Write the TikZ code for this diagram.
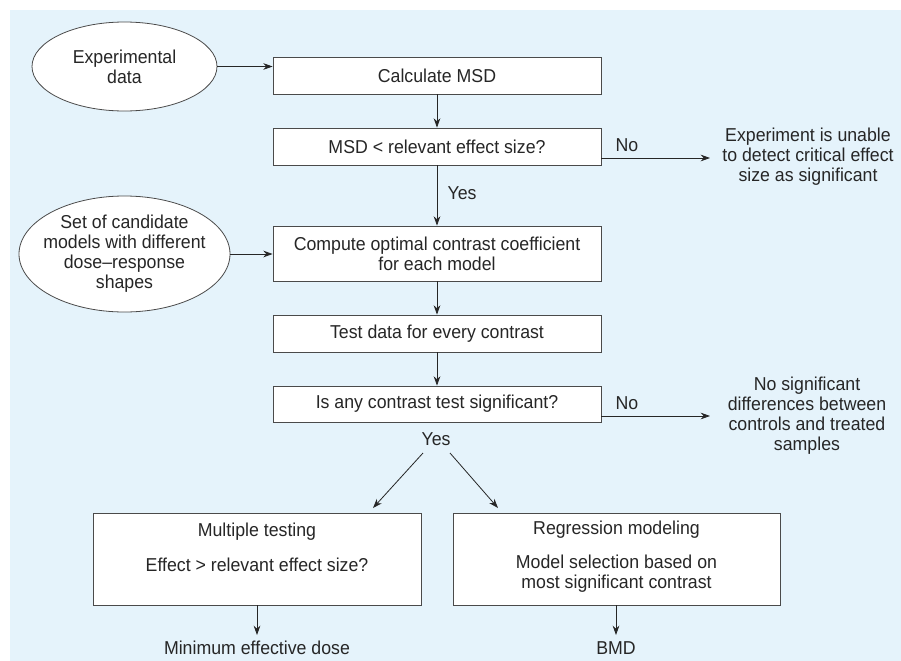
\documentclass[tikz,border=0pt]{standalone}
\usepackage{fontspec}
\setmainfont{Liberation Sans}[FakeStretch=0.95]
\usetikzlibrary{shapes.geometric,arrows.meta}
\definecolor{bgblue}{HTML}{E5F3FB}
\definecolor{edgegray}{HTML}{4A4A4A}
\tikzset{
  every node/.style={font=\fontsize{14}{15}\selectfont, text=black!85},
  procbox/.style={draw=edgegray, line width=0.6pt, fill=white, rectangle, inner sep=0pt},
  startell/.style={draw=edgegray, line width=0.6pt, fill=white, ellipse, inner sep=0pt},
  plain/.style={align=center, inner sep=0pt},
  arr/.style={draw=black!85, line width=0.6pt, -{Stealth[length=7pt,width=5pt]}}
}
\begin{document}
\begin{tikzpicture}[x=0.75pt,y=-0.75pt]
\useasboundingbox (0,0) rectangle (901,661);
\fill[bgblue] (10,10) rectangle (901,661);
% ellipses
\node[startell, minimum width=185*0.75pt, minimum height=89*0.75pt] (exp) at (124.5,66.5) {};
\node[plain] (expt) at (124.5,66.5) {Experimental\\data};
\node[startell, minimum width=211*0.75pt, minimum height=116*0.75pt] (set) at (124.5,254) {};
\node[plain] (sett) at (124.5,254) {Set of candidate\\models with different\\dose--response\\shapes};
% boxes
\node[procbox, minimum width=328*0.75pt, minimum height=37*0.75pt] (calc) at (437,75.5) {Calculate MSD};
\node[procbox, minimum width=328*0.75pt, minimum height=37*0.75pt] (msd) at (437,146.5) {MSD < relevant effect size?};
\node[procbox, minimum width=328*0.75pt, minimum height=55*0.75pt, align=center] (comp) at (437,253.5) {Compute optimal contrast coefficient\\for each model};
\node[procbox, minimum width=328*0.75pt, minimum height=37*0.75pt] (test) at (437,333.5) {Test data for every contrast};
\node[procbox, minimum width=328*0.75pt, minimum height=36*0.75pt] (any) at (437,404) {Is any contrast test significant?};
\node[procbox, minimum width=328*0.75pt, minimum height=92*0.75pt] (mult) at (257,559) {};
\node[procbox, minimum width=327*0.75pt, minimum height=92*0.75pt] (regr) at (616.5,559) {};
\node[plain] (multa) at (257,532) {Multiple testing};
\node[plain] (multb) at (257,565) {Effect > relevant effect size?};
\node[plain] (regra) at (616.5,530) {Regression modeling};
\node[plain] (regrb) at (616.5,574) {Model selection based on\\most significant contrast};
% outcomes
\node[plain] (unable) at (808,157) {Experiment is unable\\to detect critical effect\\size as significant};
\node[plain] (nosig) at (807,415.5) {No significant\\differences between\\controls and treated\\samples};
\node[plain] (med) at (257,648) {Minimum effective dose};
\node[plain] (bmd) at (616,648) {BMD};
% labels
\node[plain] (no1) at (627,145) {No};
\node[plain] (no2) at (627,403) {No};
\node[plain] (yes1) at (462,193) {Yes};
\node[plain] (yes2) at (436,439) {Yes};
\coordinate (n1end) at (710,158);
\coordinate (n2end) at (710,416);
\coordinate (dl0) at (423,453);
\coordinate (dl1) at (373,508);
\coordinate (dr0) at (450,453);
\coordinate (dr1) at (498,508);
\coordinate (medtop) at (257,635);
\coordinate (bmdtop) at (616,635);
% connectors
\draw[arr] (exp.east) -- (exp.east -| calc.west);
\draw[arr] (set.east) -- (set.east -| comp.west);
\draw[arr] (calc.south) -- (msd.north);
\draw[arr] (msd.south) -- (comp.north);
\draw[arr] (comp.south) -- (test.north);
\draw[arr] (test.south) -- (any.north);
\draw[arr] (msd.east |- n1end) -- (n1end);
\draw[arr] (any.east |- n2end) -- (n2end);
\draw[arr] (dl0) -- (dl1);
\draw[arr] (dr0) -- (dr1);
\draw[arr] (mult.south -| medtop) -- (medtop);
\draw[arr] (regr.south -| bmdtop) -- (bmdtop);
\end{tikzpicture}
\end{document}
